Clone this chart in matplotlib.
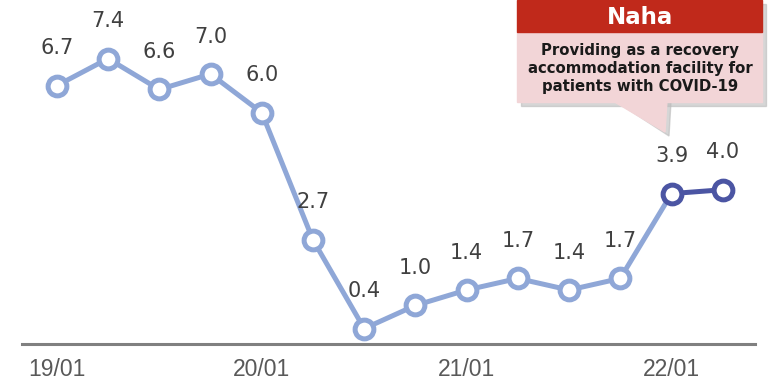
import matplotlib.pyplot as plt
from matplotlib.patches import Rectangle, Polygon

quarters = ["19/01", "19/04", "19/07", "19/10", "20/01", "20/04", "20/07",
            "20/10", "21/01", "21/04", "21/07", "21/10", "22/01", "22/04"]
values = [6.7, 7.4, 6.6, 7.0, 6.0, 2.7, 0.4, 1.0, 1.4, 1.7, 1.4, 1.7, 3.9, 4.0]
tick_labels = ["19/01", "20/01", "21/01", "22/01"]
n_highlight = 2  # last points drawn in dark

light = "#8FA7D7"
dark = "#4B55A3"

W, H = 777, 388
fig = plt.figure(figsize=(W / 100, H / 100), dpi=100)
ax = fig.add_axes([22 / W, (H - 344) / H, (755 - 22) / W, 344 / H])

x = list(range(len(values)))
k = len(values) - n_highlight
ax.plot(x[:k + 1], values[:k + 1], color=light, lw=3.6, zorder=2)
ax.plot(x[k:], values[k:], color=dark, lw=3.6, zorder=3)
ax.plot(x[:k], values[:k], 'o', ms=13.5, mfc="white", mec=light, mew=3.6, zorder=4)
ax.plot(x[k:], values[k:], 'o', ms=13.5, mfc="white", mec=dark, mew=3.6, zorder=4)

for xi, v in zip(x, values):
    ax.annotate(f"{v:.1f}", (xi, v), xytext=(0, 27), textcoords="offset points",
                ha="center", va="center", fontsize=15, color="#404040",
                family="DejaVu Sans")

ax.set_xlim(-0.68, 13.63)
ax.set_ylim(0, 8.92)
for s in ["top", "right", "left"]:
    ax.spines[s].set_visible(False)
ax.spines["bottom"].set_color("#808080")
ax.spines["bottom"].set_linewidth(2.2)
ax.set_yticks([])
ax.set_xticks([quarters.index(t) for t in tick_labels])
ax.set_xticklabels(tick_labels, fontsize=16.5, color="#595959", family="Liberation Sans")
ax.tick_params(axis="x", length=0, pad=10)
ax.patch.set_alpha(0)

# callout box (figure pixel coordinates, y from top)
def fx(px):
    return px / W

def fy(py):
    return (H - py) / H

tr = fig.transFigure
sh = 4
# shadow
fig.patches.append(Rectangle((fx(517 + sh), fy(102 + sh)), fx(245), (102 - 0) / H,
                             transform=tr, color="#BBBBBB", alpha=0.6, zorder=1))
fig.patches.append(Polygon([(fx(613 + sh), fy(102)), (fx(667 + sh), fy(102)),
                            (fx(665 + sh), fy(132 + sh))],
                           transform=tr, color="#BBBBBB", alpha=0.6, zorder=1))
fig.patches.append(Rectangle((fx(517), fy(102)), fx(245), 70 / H, transform=tr,
                             color="#F2D5D7", zorder=2))
fig.patches.append(Polygon([(fx(613), fy(101)), (fx(667), fy(101)), (fx(665), fy(132))],
                           transform=tr, color="#F2D5D7", zorder=2))
fig.patches.append(Rectangle((fx(517), fy(32)), fx(245), 32 / H, transform=tr,
                             color="#C0291B", zorder=3))
fig.text(fx(640), fy(17), "Naha", ha="center", va="center", fontsize=16.5,
         fontweight="bold", color="white", zorder=4)
fig.text(fx(640), fy(68), "Providing as a recovery\naccommodation facility for\npatients with COVID-19",
         ha="center", va="center", fontsize=10.7, fontweight="bold", color="#1A1A1A",
         linespacing=1.25, zorder=4)

fig.savefig("out.png", dpi=100)
